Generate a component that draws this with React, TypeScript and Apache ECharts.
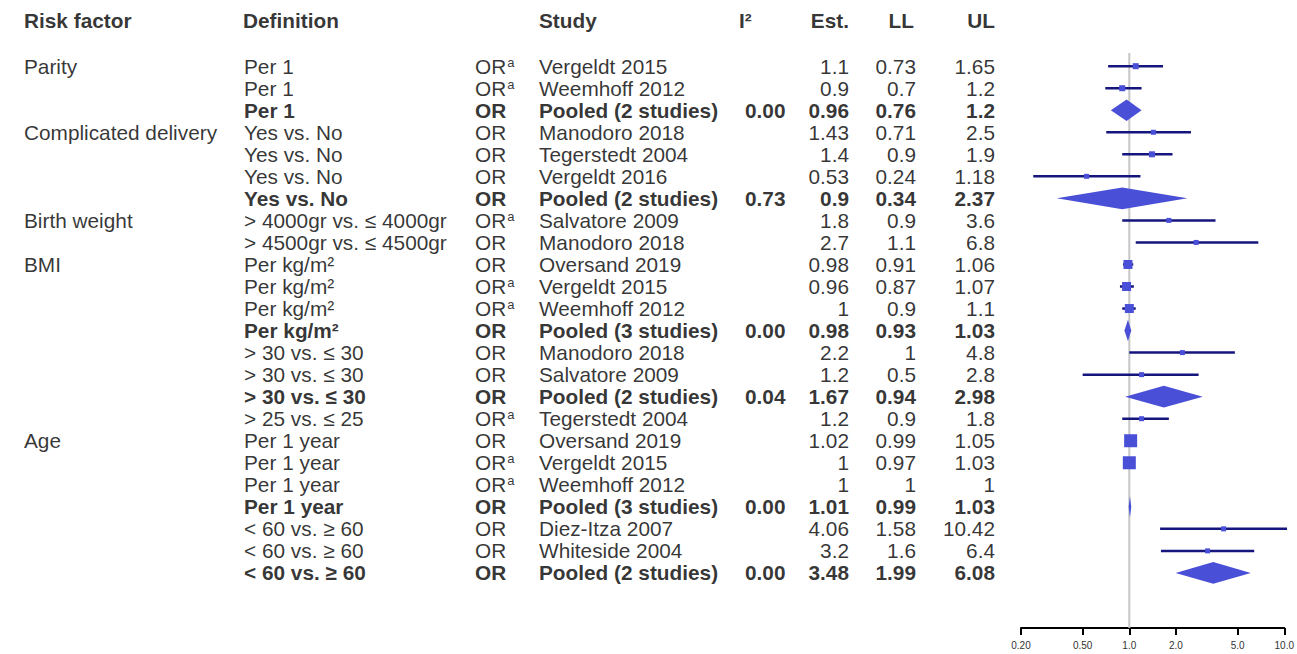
import React, { useEffect, useRef } from 'react';
import * as echarts from 'echarts';

// ---------- data ----------
const headers = ['Risk factor', 'Definition', 'Study', 'I²', 'Est.', 'LL', 'UL'];

const riskFactors = [
  'Parity', '', '', 'Complicated delivery', '', '', '', 'Birth weight', '', 'BMI', '', '', '',
  '', '', '', '', 'Age', '', '', '', '', '', '',
];

const definitions = [
  'Per 1', 'Per 1', 'Per 1',
  'Yes vs. No', 'Yes vs. No', 'Yes vs. No', 'Yes vs. No',
  '> 4000gr vs. ≤ 4000gr', '> 4500gr vs. ≤ 4500gr',
  'Per kg/m²', 'Per kg/m²', 'Per kg/m²', 'Per kg/m²',
  '> 30 vs. ≤ 30', '> 30 vs. ≤ 30', '> 30 vs. ≤ 30', '> 25 vs. ≤ 25',
  'Per 1 year', 'Per 1 year', 'Per 1 year', 'Per 1 year',
  '< 60 vs. ≥ 60', '< 60 vs. ≥ 60', '< 60 vs. ≥ 60',
];

const measures = [
  'ORa', 'ORa', 'OR',
  'OR', 'OR', 'OR', 'OR',
  'ORa', 'OR',
  'OR', 'ORa', 'ORa', 'OR',
  'OR', 'OR', 'OR', 'ORa',
  'OR', 'ORa', 'ORa', 'OR',
  'OR', 'OR', 'OR',
];

const studies = [
  'Vergeldt 2015', 'Weemhoff 2012', 'Pooled (2 studies)',
  'Manodoro 2018', 'Tegerstedt 2004', 'Vergeldt 2016', 'Pooled (2 studies)',
  'Salvatore 2009', 'Manodoro 2018',
  'Oversand 2019', 'Vergeldt 2015', 'Weemhoff 2012', 'Pooled (3 studies)',
  'Manodoro 2018', 'Salvatore 2009', 'Pooled (2 studies)', 'Tegerstedt 2004',
  'Oversand 2019', 'Vergeldt 2015', 'Weemhoff 2012', 'Pooled (3 studies)',
  'Diez-Itza 2007', 'Whiteside 2004', 'Pooled (2 studies)',
];

const i2Values: (number | null)[] = [
  null, null, 0.0,
  null, null, null, 0.73,
  null, null,
  null, null, null, 0.0,
  null, null, 0.04, null,
  null, null, null, 0.0,
  null, null, 0.0,
];

const estimates = [
  1.1, 0.9, 0.96,
  1.43, 1.4, 0.53, 0.9,
  1.8, 2.7,
  0.98, 0.96, 1, 0.98,
  2.2, 1.2, 1.67, 1.2,
  1.02, 1, 1, 1.01,
  4.06, 3.2, 3.48,
];

const lowerLimits = [
  0.73, 0.7, 0.76,
  0.71, 0.9, 0.24, 0.34,
  0.9, 1.1,
  0.91, 0.87, 0.9, 0.93,
  1, 0.5, 0.94, 0.9,
  0.99, 0.97, 1, 0.99,
  1.58, 1.6, 1.99,
];

const upperLimits = [
  1.65, 1.2, 1.2,
  2.5, 1.9, 1.18, 2.37,
  3.6, 6.8,
  1.06, 1.07, 1.1, 1.03,
  4.8, 2.8, 2.98, 1.8,
  1.05, 1.03, 1, 1.03,
  10.42, 6.4, 6.08,
];

// relative study weights (drive box size)
const boxWeights = [
  6, 6, 0,
  5, 6, 5, 0,
  5, 5,
  9, 9, 9, 0,
  5, 5, 0, 5,
  13, 13, 0, 0,
  5, 5, 0,
];

const tickValues = [0.2, 0.5, 1, 2, 5, 10];
const tickLabels = ['0.20', '0.50', '1.0', '2.0', '5.0', '10.0'];
const referenceValue = 1;

// ---------- layout ----------
const W = 1297;
const H = 654;
const FONT = "'Liberation Sans', Arial, Helvetica, sans-serif";
const FS = 20.8;
const Y_MIN = -1.5;
const Y_MAX = 26.5;
const GRID_TOP = 11.1;
const GRID_BOTTOM = 26;
const HEADER_ROW = -1.09;
const BOX_COLOR = '#4a4fd8';
const LINE_COLOR = '#15157e';

const isPooled = (i: number) => studies[i].startsWith('Pooled');

function textSeries(
  name: string,
  x: number,
  align: 'left' | 'right',
  texts: (string | null)[],
) {
  const data: any[] = [];
  texts.forEach((t, i) => {
    if (t === null || t === '') return;
    data.push({
      value: [x, i + 1],
      name: t,
      label: { fontWeight: isPooled(i) ? 'bold' : 'normal' },
    });
  });
  return {
    name,
    type: 'scatter',
    xAxisIndex: 0,
    yAxisIndex: 0,
    symbolSize: 1,
    itemStyle: { color: 'transparent' },
    silent: true,
    data,
    label: {
      show: true,
      position: 'inside',
      formatter: '{b}',
      align,
      verticalAlign: 'middle',
      fontSize: FS,
      fontFamily: FONT,
      color: '#000',
      rich: {
        s: {
          fontSize: 13,
          fontFamily: FONT,
          verticalAlign: 'top',
          padding: [0, 0, 6, 1],
          color: '#000',
        },
      },
    },
  };
}

export default function App() {
  const ref = useRef<HTMLDivElement>(null);

  useEffect(() => {
    if (!ref.current) return;
    const chart = echarts.init(ref.current, null, { renderer: 'svg' });

    const headerX = [24, 243, 539, 739, 849, 914, 995];
    const headerAlign: ('left' | 'right')[] = ['left', 'left', 'left', 'left', 'right', 'right', 'right'];

    const headerSeries = {
      name: 'headers',
      type: 'scatter',
      xAxisIndex: 0,
      yAxisIndex: 0,
      symbolSize: 1,
      itemStyle: { color: 'transparent' },
      silent: true,
      data: headers.map((h, k) => ({
        value: [headerX[k], HEADER_ROW],
        name: h,
        label: { align: headerAlign[k] },
      })),
      label: {
        show: true,
        position: 'inside',
        formatter: '{b}',
        verticalAlign: 'middle',
        fontSize: FS,
        fontWeight: 'bold',
        fontFamily: FONT,
        color: '#000',
      },
    };

    const fmt = (v: number) => String(v);

    const studyData = estimates
      .map((e, i) => ({ i, e }))
      .filter((d) => !isPooled(d.i))
      .map((d) => [
        Math.log10(d.e),
        d.i + 1,
        Math.log10(lowerLimits[d.i]),
        Math.log10(upperLimits[d.i]),
        boxWeights[d.i],
      ]);

    const pooledData = estimates
      .map((e, i) => ({ i, e }))
      .filter((d) => isPooled(d.i))
      .map((d) => [
        Math.log10(d.e),
        d.i + 1,
        Math.log10(lowerLimits[d.i]),
        Math.log10(upperLimits[d.i]),
      ]);

    const logTicks = tickValues.map((v) => Math.log10(v));

    const option: any = {
      animation: false,
      backgroundColor: '#ffffff',
      grid: [
        { left: 0, right: 0, top: GRID_TOP, bottom: GRID_BOTTOM, containLabel: false },
        { left: 1021, right: W - 1286, top: GRID_TOP, bottom: GRID_BOTTOM, containLabel: false },
      ],
      xAxis: [
        { type: 'value', gridIndex: 0, min: 0, max: W, show: false },
        {
          type: 'value',
          gridIndex: 1,
          position: 'bottom',
          min: logTicks[0],
          max: logTicks[logTicks.length - 1],
          splitLine: { show: false },
          axisLine: { show: true, onZero: false, lineStyle: { color: '#000', width: 2 } },
          axisTick: {
            show: true,
            length: 7,
            lineStyle: { color: '#000', width: 2 },
            customValues: logTicks,
          },
          axisLabel: {
            show: true,
            margin: 12,
            fontSize: 10,
            fontFamily: FONT,
            color: '#333',
            customValues: logTicks,
            formatter: (v: number) => {
              let best = 0;
              logTicks.forEach((t, k) => {
                if (Math.abs(t - v) < Math.abs(logTicks[best] - v)) best = k;
              });
              return tickLabels[best];
            },
          },
        },
      ],
      yAxis: [
        { type: 'value', gridIndex: 0, min: Y_MIN, max: Y_MAX, inverse: true, show: false },
        { type: 'value', gridIndex: 1, min: Y_MIN, max: Y_MAX, inverse: true, show: false },
      ],
      series: [
        headerSeries,
        textSeries('risk', 24, 'left', riskFactors),
        textSeries('definition', 244, 'left', definitions),
        textSeries('measure', 475, 'left', measures.map((m) => (m === 'ORa' ? 'OR{s|a}' : m))),
        textSeries('study', 539, 'left', studies),
        textSeries('i2', 745, 'left', i2Values.map((v) => (v === null ? null : v.toFixed(2)))),
        textSeries('est', 849, 'right', estimates.map(fmt)),
        textSeries('ll', 916, 'right', lowerLimits.map(fmt)),
        textSeries('ul', 995, 'right', upperLimits.map(fmt)),
        {
          name: 'reference',
          type: 'line',
          xAxisIndex: 1,
          yAxisIndex: 1,
          symbol: 'none',
          silent: true,
          z: 1,
          lineStyle: { color: '#c6c6c6', width: 2 },
          data: [
            [Math.log10(referenceValue), 0.4],
            [Math.log10(referenceValue), Y_MAX],
          ],
        },
        {
          name: 'studies',
          type: 'custom',
          xAxisIndex: 1,
          yAxisIndex: 1,
          clip: false,
          silent: true,
          z: 3,
          encode: { x: [0, 2, 3], y: 1 },
          data: studyData,
          renderItem: (params: any, api: any) => {
            const row = api.value(1);
            const pe = api.coord([api.value(0), row]);
            const pl = api.coord([api.value(2), row]);
            const ph = api.coord([api.value(3), row]);
            const s = api.value(4);
            const children: any[] = [];
            if (ph[0] - pl[0] > 0.5) {
              children.push({
                type: 'line',
                shape: { x1: pl[0], y1: pl[1], x2: ph[0], y2: ph[1] },
                style: { stroke: LINE_COLOR, lineWidth: 2.5 },
              });
            }
            if (s > 0) {
              children.push({
                type: 'rect',
                shape: { x: pe[0] - s / 2, y: pe[1] - s / 2, width: s, height: s },
                style: { fill: BOX_COLOR },
              });
            }
            return { type: 'group', children };
          },
        },
        {
          name: 'pooled',
          type: 'custom',
          xAxisIndex: 1,
          yAxisIndex: 1,
          clip: false,
          silent: true,
          z: 3,
          encode: { x: [0, 2, 3], y: 1 },
          data: pooledData,
          renderItem: (params: any, api: any) => {
            const row = api.value(1);
            const pe = api.coord([api.value(0), row]);
            const pl = api.coord([api.value(2), row]);
            const ph = api.coord([api.value(3), row]);
            const top = api.coord([api.value(0), row - 0.49]);
            const bot = api.coord([api.value(0), row + 0.49]);
            return {
              type: 'polygon',
              shape: {
                points: [
                  [pl[0], pl[1]],
                  [pe[0], top[1]],
                  [ph[0], ph[1]],
                  [pe[0], bot[1]],
                ],
              },
              style: { fill: BOX_COLOR },
            };
          },
        },
      ],
    };

    chart.setOption(option);
    return () => {
      chart.dispose();
    };
  }, []);

  return (
    <div
      ref={ref}
      style={{ position: 'fixed', left: 0, top: 0, width: W, height: H, background: '#fff' }}
    />
  );
}
